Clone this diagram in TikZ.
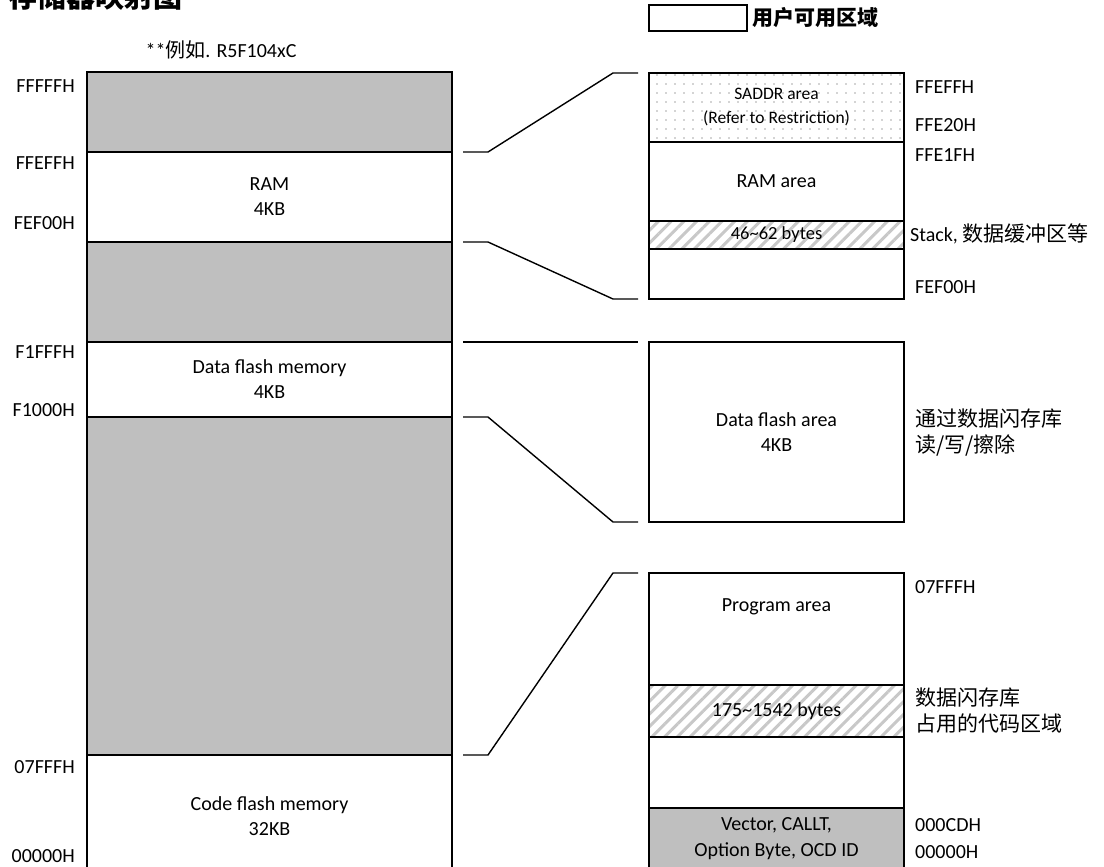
\documentclass[tikz,border=0pt]{standalone}
\usepackage{fontspec}
\setmainfont{Carlito}
\newfontfamily\cjk{Noto Sans CJK SC}
\usetikzlibrary{positioning,calc,patterns.meta}
\definecolor{rsvgray}{HTML}{BFBFBF}
\definecolor{hatchgray}{HTML}{C8C8C8}
\definecolor{dotgray}{HTML}{A8A8A8}
\tikzset{
  memblk/.style={draw=black, line width=1.4pt, rectangle, inner sep=0pt, outer sep=0pt,
                 anchor=north west, align=center, font=\fontsize{20}{25}\selectfont},
  rsv/.style={memblk, fill=rsvgray},
  usr/.style={memblk, fill=white},
  hatched/.style={memblk, pattern={Lines[angle=45,distance=9pt,line width=3pt]}, pattern color=hatchgray},
  dotted area/.style={memblk, pattern={Dots[distance=9pt,radius=0.8pt]}, pattern color=dotgray},
  addrl/.style={font=\fontsize{20}{24}\selectfont, inner sep=0pt, anchor=east},
  addrr/.style={font=\fontsize{20}{24}\selectfont, inner sep=0pt, anchor=west, align=left},
  note/.style={font=\cjk\fontsize{21}{26}\selectfont, inner sep=0pt, anchor=west, align=left},
  % ---- zoom connectors (short stub, slope, short stub) ----
  zoomln/.style={line width=1.4pt, draw=black,
    to path={($(\tikztostart)+(11,0)$) -- ++(25,0) -- ($(\tikztotarget)+(-36,0)$) -- ($(\tikztotarget)+(-11,0)$)}},
}

\begin{document}
\begin{tikzpicture}[x=1pt, y=-1pt]
\useasboundingbox (0,0) rectangle (1104,867);
  % ---- titles / legend ----
  \node[anchor=base west, inner sep=0pt, font=\cjk\bfseries\fontsize{29}{30}\selectfont] (title) at (8,8) {存储器映射图};
  \node[font=\fontsize{20}{24}\selectfont, inner sep=0pt] (part) at (221,50) {**{\cjk 例如}. R5F104xC};
  \node[usr, minimum width=98, minimum height=26] (lgbox) at (649,5) {};
  \node[note, font=\cjk\bfseries\fontsize{21}{26}\selectfont, right=5pt of lgbox] (lgtext) {用户可用区域};
  % ---- whole memory space (left) ----
  \node[rsv, minimum width=365, minimum height=80]  (top)   at (87,72)  {};
  \node[usr, minimum width=365, minimum height=90]  (ram)   at (87,152) {RAM\\4KB};
  \node[rsv, minimum width=365, minimum height=100] (gap1)  at (87,242) {};
  \node[usr, minimum width=365, minimum height=75]  (dfl)   at (87,342) {Data flash memory\\4KB};
  \node[rsv, minimum width=365, minimum height=338] (gap2)  at (87,417) {};
  \node[usr, minimum width=365, minimum height=122] (cfl)   at (87,755) {Code flash memory\\32KB};
  % ---- left addresses ----
  \node[addrl] (a1) at (75,86)  {FFFFFH};
  \node[addrl] (a2) at (75,163) {FFEFFH};
  \node[addrl] (a3) at (75,223) {FEF00H};
  \node[addrl] (a4) at (75,352) {F1FFFH};
  \node[addrl] (a5) at (75,410) {F1000H};
  \node[addrl] (a6) at (75,767) {07FFFH};
  \node[addrl] (a7) at (75,856) {00000H};
  % ---- RAM detail ----
  \node[dotted area, minimum width=255, minimum height=69, font=\fontsize{17.5}{24}\selectfont] (saddr) at (649,73) {SADDR area\\(Refer to Restriction)};
  \node[usr, minimum width=255, minimum height=79]  (rama)  at (649,142) {RAM area};
  \node[hatched, minimum width=255, minimum height=28, font=\fontsize{18.5}{22}\selectfont] (stk) at (649,221) {46\textasciitilde62 bytes};
  \node[usr, minimum width=255, minimum height=50]  (rbot)  at (649,249) {};
  % ---- data flash detail ----
  \node[usr, minimum width=255, minimum height=180] (dfa)   at (649,342) {Data flash area\\4KB};
  % ---- code flash detail ----
  \node[usr, minimum width=255, minimum height=112] (prog)  at (649,573) {};
  \node[font=\fontsize{20}{24}\selectfont, inner sep=0pt] (progt) at ($(prog.north)+(0,34)$) {Program area};
  \node[hatched, minimum width=255, minimum height=52, font=\fontsize{20}{24}\selectfont] (lib) at (649,685) {175\textasciitilde1542 bytes};
  \node[usr, minimum width=255, minimum height=71]  (pfree) at (649,737) {};
  \node[rsv, minimum width=255, minimum height=62, font=\fontsize{20}{26}\selectfont] (vec) at (649,808) {Vector, CALLT,\\Option Byte, OCD ID};
  % ---- right addresses / notes ----
  \node[addrr] (b1) at (915,87)  {FFEFFH};
  \node[addrr] (b2) at (915,125) {FFE20H};
  \node[addrr] (b3) at (915,155) {FFE1FH};
  \node[addrr] (b4) at (910,234) {Stack, {\cjk\fontsize{21}{24}\selectfont 数据缓冲区等}};
  \node[addrr] (b5) at (915,287) {FEF00H};
  \node[note]  (n1) at (915,433) {通过数据闪存库\\读/写/擦除};
  \node[addrr] (b6) at (915,587) {07FFFH};
  \node[note]  (n2) at (915,711) {数据闪存库\\占用的代码区域};
  \node[addrr] (b7) at (915,825) {000CDH};
  \node[addrr] (b8) at (915,852) {00000H};
  % ---- zoom connectors ----
  \draw[zoomln] (ram.north east) to (saddr.north west);
  \draw[zoomln] (ram.south east) to (rbot.south west);
  \draw[zoomln] (dfl.north east) to (dfa.north west);
  \draw[zoomln] (dfl.south east) to (dfa.south west);
  \draw[zoomln] (cfl.north east) to (prog.north west);
\end{tikzpicture}
\end{document}
